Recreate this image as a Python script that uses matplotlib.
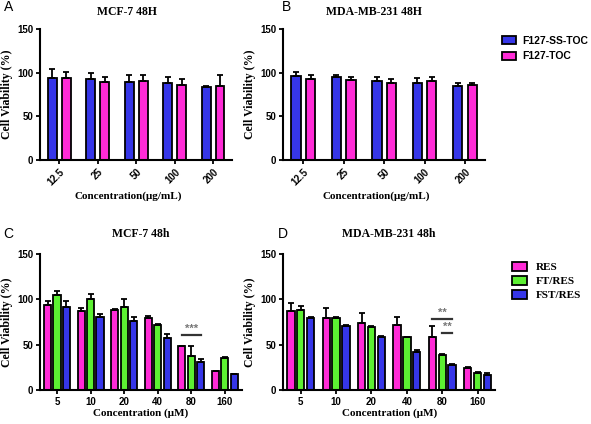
import numpy as np
from matplotlib import pyplot as plt
from matplotlib.patches import Patch

# top row: F127 carriers, ug/mL
conc_top = ["12.5", "25", "50", "100", "200"]
mcf_ss_toc = [93.8, 93.0, 89.0, 87.6, 83.4]
mcf_ss_toc_err = [10.5, 7.0, 8.5, 7.0, 1.2]
mcf_toc = [94.0, 89.0, 90.0, 86.0, 84.0]
mcf_toc_err = [7.0, 5.5, 7.0, 6.5, 13.0]
mda_ss_toc = [96.4, 94.5, 90.0, 88.0, 84.0]
mda_ss_toc_err = [4.0, 3.0, 4.5, 5.4, 3.5]
mda_toc = [92.6, 91.5, 88.4, 90.0, 85.7]
mda_toc_err = [4.0, 3.0, 4.0, 4.5, 2.7]

# bottom row: RES formulations, uM
conc_bot = ["5", "10", "20", "40", "80", "160"]
mcf_res = [93.9, 87.3, 88.0, 79.6, 48.4, 20.5]
mcf_res_err = [4.7, 3.0, 1.0, 1.8, 0.7, 0.8]
mcf_ft = [105.0, 100.0, 92.0, 72.2, 37.8, 35.6]
mcf_ft_err = [4.5, 6.0, 8.5, 1.0, 10.6, 1.4]
mcf_fst = [91.7, 80.3, 76.6, 57.9, 31.2, 17.2]
mcf_fst_err = [7.0, 3.3, 4.4, 3.7, 3.0, 0.7]
mda_res = [87.3, 79.6, 74.0, 72.2, 59.0, 24.6]
mda_res_err = [9.0, 10.6, 11.0, 7.8, 12.0, 1.1]
mda_ft = [88.4, 79.6, 69.0, 58.3, 39.2, 19.0]
mda_ft_err = [4.0, 1.0, 1.5, 0.7, 1.1, 1.0]
mda_fst = [79.6, 70.4, 58.3, 42.2, 27.5, 16.9]
mda_fst_err = [0.7, 1.1, 1.5, 1.8, 1.1, 1.4]

BLUE = "#3636e8"
PINK = "#ff2bd6"
GREEN = "#5cf032"
SERIF = "Liberation Serif"
SANS = "Liberation Sans"


def bars(ax, labels, series, width, step, rot):
    x = np.arange(len(labels))
    n = len(series)
    for i, (vals, errs, col) in enumerate(series):
        xs = x + (i - (n - 1) / 2) * step
        ax.bar(xs, vals, width, color=col, edgecolor="black", linewidth=1.3,
               yerr=[np.zeros(len(errs)), errs], capsize=2.2,
               error_kw=dict(elinewidth=1.3, capthick=1.3, ecolor="black"),
               zorder=2)
    ax.set_xlim(-0.5, len(labels) - 0.5)
    ax.set_ylim(0, 150)
    ax.set_yticks([0, 50, 100, 150])
    ax.set_xticks(x)
    if rot:
        ax.set_xticklabels(labels, rotation=45, ha="right", rotation_mode="anchor")
    else:
        ax.set_xticklabels(labels)
    for lab in ax.get_xticklabels() + ax.get_yticklabels():
        lab.set_fontfamily(SANS)
        lab.set_fontweight("bold")
        lab.set_fontsize(7)
    ax.tick_params(width=1.3, length=3, pad=2)
    for s in ["top", "right"]:
        ax.spines[s].set_visible(False)
    for s in ["left", "bottom"]:
        ax.spines[s].set_linewidth(1.5)
    ax.set_ylabel("Cell Viability (%)", fontfamily=SERIF, fontweight="bold",
                  fontsize=8.5, labelpad=3)
    return x


def sig(ax, x0, x1, y, text):
    ax.plot([x0, x1], [y, y], color="#333333", lw=1.6, zorder=3)
    ax.text((x0 + x1) / 2, y + 1.5, text, ha="center", va="bottom",
            color="#777777", fontsize=8, fontweight="bold", fontfamily=SANS)


fig = plt.figure(figsize=(5.91, 4.24), dpi=100)

axA = fig.add_axes([0.068, 0.623, 0.325, 0.309])
axB = fig.add_axes([0.479, 0.623, 0.342, 0.309])
axC = fig.add_axes([0.068, 0.080, 0.341, 0.321])
axD = fig.add_axes([0.479, 0.080, 0.359, 0.321])

for ax, ss, sse, toc, toce, title in [
        (axA, mcf_ss_toc, mcf_ss_toc_err, mcf_toc, mcf_toc_err, "MCF-7 48H"),
        (axB, mda_ss_toc, mda_ss_toc_err, mda_toc, mda_toc_err, "MDA-MB-231 48H")]:
    bars(ax, conc_top, [(ss, sse, BLUE), (toc, toce, PINK)], 0.23, 0.36, True)
    ax.set_xlabel("Concentration(\u03bcg/mL)", fontfamily=SERIF, fontweight="bold",
                  fontsize=8, labelpad=3, x=0.46)
    ax.set_title(title, fontfamily=SERIF, fontweight="bold", fontsize=8.5, pad=10,
                 x=0.45)

for ax, r, re_, f, fe, s, se, title in [
        (axC, mcf_res, mcf_res_err, mcf_ft, mcf_ft_err, mcf_fst, mcf_fst_err, "MCF-7 48h"),
        (axD, mda_res, mda_res_err, mda_ft, mda_ft_err, mda_fst, mda_fst_err, "MDA-MB-231 48h")]:
    bars(ax, conc_bot, [(r, re_, PINK), (f, fe, GREEN), (s, se, BLUE)], 0.21, 0.28, False)
    ax.set_xlabel("Concentration (\u03bcM)", fontfamily=SERIF, fontweight="bold",
                  fontsize=8, labelpad=1)
    ax.set_title(title, fontfamily=SERIF, fontweight="bold", fontsize=8.5, pad=12)

sig(axC, 4 - 0.28, 4 + 0.28, 60.5, "***")
sig(axD, 4 - 0.28, 4 + 0.28, 78, "**")
sig(axD, 4, 4 + 0.28, 62.7, "**")

for lbl, x, y in [("A", 0.006, 0.983), ("B", 0.477, 0.983),
                  ("C", 0.006, 0.447), ("D", 0.471, 0.447)]:
    fig.text(x, y, lbl, fontfamily=SANS, fontsize=10, ha="left", va="center")

top_handles = [Patch(facecolor=BLUE, edgecolor="black", linewidth=1.3, label="F127-SS-TOC"),
               Patch(facecolor=PINK, edgecolor="black", linewidth=1.3, label="F127-TOC")]
fig.legend(handles=top_handles, loc="upper left", bbox_to_anchor=(0.842, 0.925),
           frameon=False, prop=dict(family=SANS, weight="bold", size=7.5),
           handlelength=1.4, handleheight=0.8, handletextpad=0.6, labelspacing=0.5,
           borderaxespad=0)

bot_handles = [Patch(facecolor=PINK, edgecolor="black", linewidth=1.3, label="RES"),
               Patch(facecolor=GREEN, edgecolor="black", linewidth=1.3, label="FT/RES"),
               Patch(facecolor=BLUE, edgecolor="black", linewidth=1.3, label="FST/RES")]
fig.legend(handles=bot_handles, loc="upper left", bbox_to_anchor=(0.858, 0.392),
           frameon=False, prop=dict(family=SERIF, weight="bold", size=8),
           handlelength=1.4, handleheight=0.8, handletextpad=0.8, labelspacing=0.35,
           borderaxespad=0)

fig.savefig("out.png", dpi=100)
